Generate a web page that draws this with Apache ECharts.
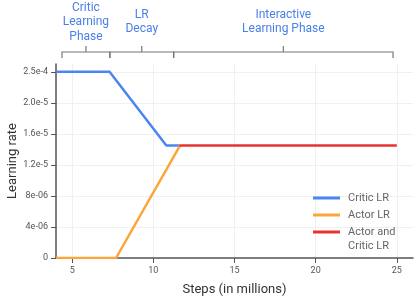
<!DOCTYPE html>
<html>
<head>
<meta charset="utf-8">
<script src="https://cdn.jsdelivr.net/npm/echarts@6/dist/echarts.min.js"></script>
<style>html,body{margin:0;padding:0;background:#fff;}#c{width:418px;height:297px;}</style>
</head>
<body>
<div id="c"></div>
<script>
// ---- data ----
var criticLR = [[4, 2.4e-5], [7.3, 2.4e-5], [10.8, 1.45e-5], [11.6, 1.45e-5]];
var actorLR = [[4, 0], [7.7, 0], [11.65, 1.45e-5]];
var bothLR = [[11.6, 1.45e-5], [25, 1.45e-5]];
var seriesNames = ['Critic LR', 'Actor LR', 'Actor and\nCritic LR'];
var xTicks = [5, 10, 15, 20, 25];
var yTickValues = [0, 4e-6, 8e-6, 1.2e-5, 1.6e-5, 2.0e-5, 2.4e-5];
var yTickLabels = ['0', '4e-06', '8e-06', '1.2e-5', '1.6e-5', '2.0e-5', '2.5e-4'];
var phaseStart = [4.37, 7.32, 11.25];
var phaseEnd = [7.32, 11.25, 24.77];
var phaseLabels = ['Critic\nLearning\nPhase', 'LR\nDecay', 'Interactive\nLearning Phase'];

var chart = echarts.init(document.getElementById('c'), null, {renderer: 'canvas'});
var axisColor = '#555';
var phaseData = phaseStart.map(function (s, i) { return [s, phaseEnd[i], i]; });
var legendText = {fontSize: 11, color: '#666', fontFamily: 'Roboto', lineHeight: 14, padding: [0, 0, 0, 3]};
var legendBase = {
  orient: 'vertical', left: 313, icon: 'rect', itemWidth: 27, itemHeight: 3, itemGap: 3,
  padding: 0, selectedMode: false, textStyle: legendText,
  formatter: function (name) { return name.indexOf('\n') >= 0 ? ' \n' + name : name; }
};

chart.setOption({
  animation: false,
  backgroundColor: '#fff',
  textStyle: {fontFamily: 'Roboto'},
  grid: {left: 56, right: 5, top: 64, bottom: 39, containLabel: false, outerBoundsMode: 'none'},
  xAxis: {
    type: 'value', min: 4, max: 26,
    name: 'Steps (in millions)', nameLocation: 'middle', nameGap: 25, nameMoveOverlap: false,
    nameTextStyle: {fontSize: 13, color: '#333', fontFamily: 'Roboto'},
    axisLine: {lineStyle: {color: axisColor, width: 1.5}},
    axisTick: {show: true, length: 5, customValues: xTicks, lineStyle: {color: axisColor}},
    axisLabel: {customValues: xTicks, fontSize: 9, color: '#555', margin: 8},
    splitLine: {show: true, lineStyle: {color: '#f0f0f0', width: 1}}
  },
  yAxis: {
    type: 'value', min: 0, max: 2.5e-5,
    name: 'Learning rate', nameLocation: 'middle', nameGap: 37, nameMoveOverlap: false,
    nameTextStyle: {fontSize: 13, color: '#333', fontFamily: 'Roboto'},
    axisLine: {show: true, lineStyle: {color: axisColor, width: 1.5}},
    axisTick: {show: true, length: 5, customValues: yTickValues, lineStyle: {color: axisColor}},
    axisLabel: {
      customValues: yTickValues, fontSize: 9, color: '#555', margin: 8,
      formatter: function (v) {
        var i = Math.round(v / 4e-6);
        return (Math.abs(v - yTickValues[i]) < 1e-9 && yTickLabels[i] !== undefined) ? yTickLabels[i] : '';
      }
    },
    splitLine: {show: true, lineStyle: {color: '#f0f0f0', width: 1}}
  },
  legend: [
    Object.assign({}, legendBase, {data: seriesNames.slice(0, 2), top: 191}),
    Object.assign({}, legendBase, {data: seriesNames.slice(2), top: 211})
  ],
  series: [
    {name: seriesNames[0], type: 'line', data: criticLR, showSymbol: false, symbol: 'none',
     lineStyle: {color: '#4a86f0', width: 2.5}, itemStyle: {color: '#4a86f0'}, z: 2},
    {name: seriesNames[1], type: 'line', data: actorLR, showSymbol: false, symbol: 'none',
     lineStyle: {color: '#fba63a', width: 2.5}, itemStyle: {color: '#fba63a'}, z: 3},
    {name: seriesNames[2], type: 'line', data: bothLR, showSymbol: false, symbol: 'none',
     lineStyle: {color: '#e8322e', width: 2.5}, itemStyle: {color: '#e8322e'}, z: 4},
    {
      type: 'custom', silent: true, clip: false, data: phaseData,
      encode: {x: [0, 1]},
      renderItem: function (params, api) {
        var x1 = api.coord([api.value(0), 0])[0];
        var x2 = api.coord([api.value(1), 0])[0];
        var xm = (x1 + x2) / 2;
        var yb = 52, st = {stroke: '#777', lineWidth: 1.2, fill: null};
        return {
          type: 'group',
          children: [
            {type: 'polyline', shape: {points: [[x1, 58], [x1, yb], [x2, yb], [x2, 58]]}, style: st},
            {type: 'line', shape: {x1: xm, y1: yb, x2: xm, y2: 46}, style: st},
            {type: 'text', style: {text: phaseLabels[api.value(2)], x: xm, y: 22,
              textAlign: 'center', textVerticalAlign: 'middle', fill: '#4a7fe6',
              font: '12px Roboto', lineHeight: 14.5}}
          ]
        };
      }
    }
  ]
});
</script>
</body>
</html>
